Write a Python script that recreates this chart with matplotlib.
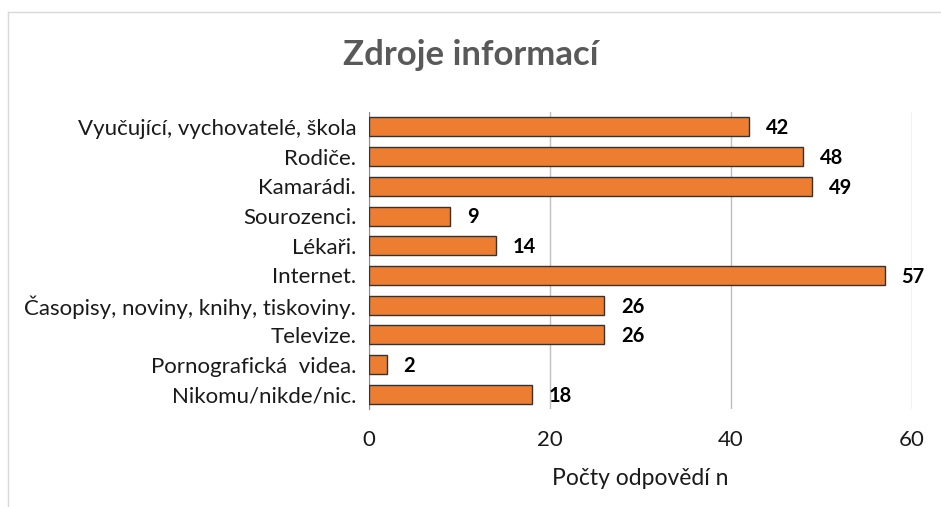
import matplotlib.pyplot as plt
from matplotlib.lines import Line2D

# Data
categories = [
    "Vyučující, vychovatelé, škola",
    "Rodiče.",
    "Kamarádi.",
    "Sourozenci.",
    "Lékaři.",
    "Internet.",
    "Časopisy, noviny, knihy, tiskoviny.",
    "Televize.",
    "Pornografická  videa.",
    "Nikomu/nikde/nic.",
]
counts = [42, 48, 49, 9, 14, 57, 26, 26, 2, 18]
x_ticks = [0, 20, 40, 60]

plt.rcParams['font.family'] = ['Lato', 'DejaVu Sans']

fig = plt.figure(figsize=(9.41, 5.07), dpi=100)
ax = fig.add_axes([0.392, 0.193, 0.577, 0.586])

# light chart border (top and left visible)
fig.add_artist(Line2D([8 / 941, 8 / 941], [0, 1 - 12 / 507], transform=fig.transFigure,
                      color='#d9d9d9', lw=1))
fig.add_artist(Line2D([8 / 941, 1], [1 - 12 / 507, 1 - 12 / 507], transform=fig.transFigure,
                      color='#d9d9d9', lw=1))

ypos = list(range(len(categories)))
ax.barh(ypos, counts, height=0.64, color='#ED7D31', edgecolor='#333333', linewidth=1, zorder=3)

for y, v in zip(ypos, counts):
    ax.annotate(str(v), (v, y), xytext=(12, -1), textcoords='offset points',
                va='center', ha='left', fontsize=14.5, fontweight='bold', color='black')

ax.set_ylim(len(categories) - 0.5, -0.5)
ax.set_xlim(0, 60)
ax.set_yticks(ypos)
ax.set_yticklabels(categories, fontsize=16, color='#1a1a1a')
ax.set_xticks(x_ticks)
ax.set_xticklabels([str(t) for t in x_ticks], fontsize=16, color='#1a1a1a')
ax.tick_params(axis='both', length=0)
ax.tick_params(axis='x', pad=15)
ax.tick_params(axis='y', pad=9)

ax.grid(axis='x', color='#bfbfbf', lw=1, zorder=0)
for side in ['top', 'right', 'bottom']:
    ax.spines[side].set_visible(False)
ax.spines['left'].set_color('#8c8c8c')

ax.set_xlabel('Počty odpovědí n', fontsize=16.5, color='#1a1a1a', labelpad=13)
fig.text(0.5, 1 - 55 / 507, 'Zdroje informací', ha='center', va='center',
         fontsize=25, fontweight='bold', color='#595959')

fig.savefig('out.png', dpi=100)
